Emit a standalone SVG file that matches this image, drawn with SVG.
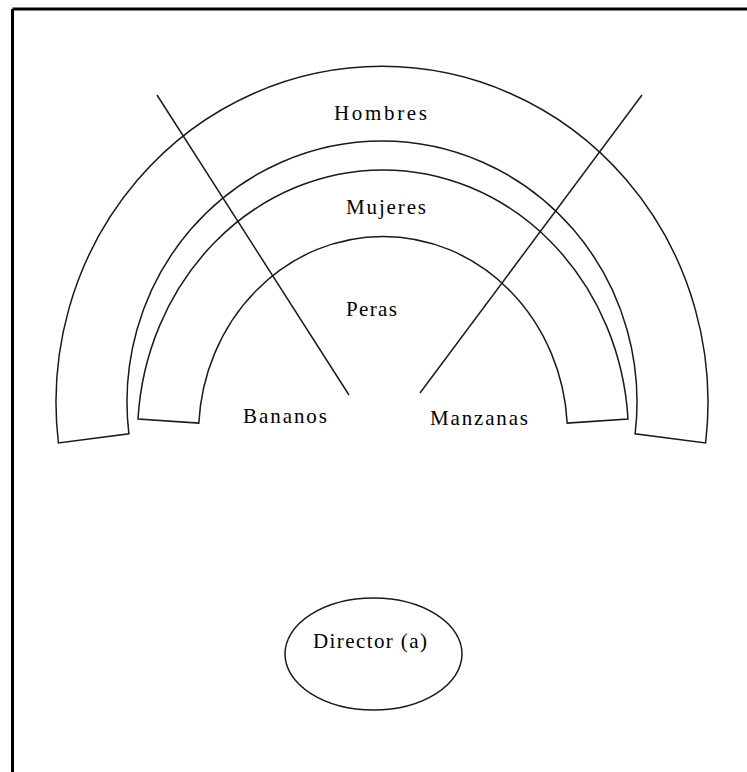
<svg xmlns="http://www.w3.org/2000/svg" width="747" height="772" viewBox="0 0 747 772">
<style>
.shape{fill:none;stroke:#1a1a1a;stroke-width:1.5}
.lbl{font-family:"Liberation Serif","Times New Roman",serif;font-size:21px;fill:#000}
.frame{stroke:#000;stroke-width:3;fill:none}
</style>
<rect width="747" height="772" fill="#fff"/>
<g id="frame">
<line class="frame" x1="12.5" y1="9" x2="747" y2="9"/>
<line class="frame" x1="12.5" y1="9" x2="12.5" y2="772"/>
</g>
<g id="hombres">
<path class="shape" d="M 58.4 443 A 326 336 0 1 1 705.6 443 L 635.1 433.8 A 255 261 0 1 0 128.9 433.8 Z"/>
<text class="lbl" x="334" y="120" textLength="93" lengthAdjust="spacing">Hombres</text>
</g>
<g id="mujeres">
<path class="shape" d="M 138 419 A 245.5 266 0 0 1 628 419 L 567.2 423.1 A 184.5 198 0 0 0 198.8 423.1 Z"/>
<text class="lbl" x="346" y="214" textLength="80" lengthAdjust="spacing">Mujeres</text>
</g>
<g id="peras">
<text class="lbl" x="346" y="316" textLength="51" lengthAdjust="spacing">Peras</text>
</g>
<g id="bananos">
<text class="lbl" x="243" y="423" textLength="84" lengthAdjust="spacing">Bananos</text>
</g>
<g id="manzanas">
<text class="lbl" x="430" y="425" textLength="98" lengthAdjust="spacing">Manzanas</text>
</g>
<g id="director">
<ellipse class="shape" cx="373.5" cy="654" rx="88.5" ry="56"/>
<text class="lbl" x="313" y="648" textLength="114" lengthAdjust="spacing">Director (a)</text>
</g>
<g id="connectors">
<line class="shape" x1="157" y1="95" x2="349" y2="395"/>
<line class="shape" x1="642" y1="95" x2="420" y2="393"/>
</g>
</svg>
